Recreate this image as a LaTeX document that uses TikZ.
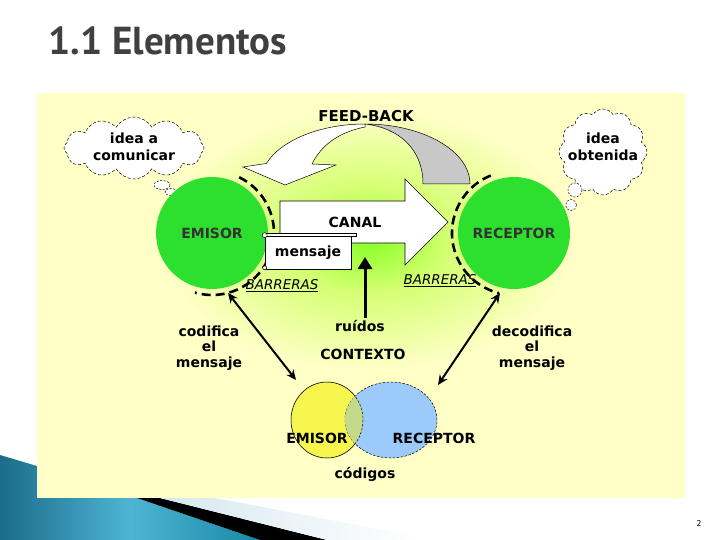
\documentclass[tikz,border=0pt]{standalone}
\usepackage{fontspec}
\setmainfont{DejaVu Sans}
\newfontfamily\titlefont{PT Sans}
\newfontfamily\pagefont{DejaVu Sans Mono}
\usepackage{tikz}
\usetikzlibrary{positioning, arrows.meta, shapes.symbols, shapes.geometric, calc, backgrounds}
\definecolor{panel}{HTML}{FFFFC6}
\definecolor{titlegray}{HTML}{404040}
\definecolor{emigreen}{HTML}{2EE02E}
\definecolor{fbgrey}{HTML}{C8C8C8}
\definecolor{vyellow}{HTML}{F6F64E}
\definecolor{vblue}{HTML}{9CCBFA}
\definecolor{voverlap}{HTML}{C4D98A}
\definecolor{tealdark}{HTML}{1B6C8A}
\definecolor{teallight}{HTML}{4FB4D3}
\definecolor{tealmid}{HTML}{178AA8}
\definecolor{paleblue}{HTML}{D6E8F0}
\pgfdeclareradialshading{glow}{\pgfpoint{0bp}{0bp}}{%
  color(0bp)=(green!55!yellow!85!white); color(10bp)=(green!30!yellow!55!white);
  color(25bp)=(panel); color(50bp)=(panel)}

\begin{document}
\begin{tikzpicture}[x=1pt, y=-1pt,
  lbl/.style={font=\bfseries\fontsize{14}{16}\selectfont, align=center, inner sep=1pt},
  party/.style={circle, fill=emigreen, minimum size=112pt, inner sep=0pt, font=\bfseries\fontsize{14}{16}\selectfont, text=black!80},
  ring/.style={line width=2.6pt, dash pattern=on 9pt off 5pt},
  thought/.style={cloud, cloud puffs=12, cloud puff arc=120, draw, fill=white, line width=0.5pt, dash pattern=on 3pt off 2pt, inner sep=0pt},
  bubble/.style={draw, fill=white, line width=0.5pt, dash pattern=on 2pt off 1.5pt},
  barr/.style={font=\itshape\fontsize{13.5}{15}\selectfont, inner sep=1pt},
  dlink/.style={{Stealth[length=10pt, width=9pt]}-{Stealth[length=10pt, width=9pt]}, line width=2pt},
  noise/.style={-{Triangle[length=12pt, width=14pt]}, line width=3pt},
  vset/.style={ellipse, draw, line width=0.5pt, dash pattern=on 2.5pt off 1.5pt, inner sep=0pt}
]
\useasboundingbox (0,0) rectangle (720,540);
\fill[white] (0,0) rectangle (720,540);

% ===== Slide decoration =====
\shade[left color=tealdark, right color=tealmid, middle color=teallight]
  (0,455) -- (37,466) -- (37,498) -- (137,498) -- (260,540) -- (0,540) -- cycle;
\fill[black] (137,498) -- (160,498) -- (327,540) -- (260,540) -- cycle;
\shade[left color=paleblue, right color=white]
  (160,498) -- (215,498) -- (420,537) -- (420,540) -- (327,540) -- cycle;
\node[anchor=base west, font=\titlefont\bfseries\fontsize{39}{41}\selectfont, text=titlegray] (title) at (45,55) {1.1 Elementos};
\node[font=\pagefont\fontsize{8}{9}\selectfont] (pagenum) at (699,524) {2};

% ===== Panel and glow =====
\fill[panel] (37,93) rectangle (685,498);
\shade[shading=glow] (368,240) ellipse[x radius=205, y radius=130];

% ===== Feed-back =====
\draw[fill=fbgrey, line width=0.5pt] (470,184) arc[start angle=0, end angle=-90, x radius=105, y radius=60]
  .. controls (400,128) and (423,150) .. (423,184) -- cycle;
\draw[fill=white, line width=0.5pt] (365,124) arc[start angle=-90, end angle=-160, x radius=105, y radius=60]
  -- (243,167) -- (285,185) -- (336,165) -- (312,164)
  .. controls (320,148) and (335,133) .. (365,127) -- cycle;
\node[lbl, font=\bfseries\fontsize{15}{17}\selectfont] (feedback) at (366,116) {FEED-BACK};

% ===== Thoughts =====
\node[thought, minimum width=140pt, minimum height=62pt] (cloudA) at (134,148) {};
\node[lbl] (ideaA) at (134,147) {idea a\\[1pt]comunicar};
\draw[bubble] (162,185) ellipse[x radius=8, y radius=4.5];
\draw[bubble] (171,192) ellipse[x radius=6, y radius=3.5];
\node[thought, minimum width=88pt, minimum height=86pt] (cloudB) at (603,152) {};
\node[lbl] (ideaB) at (603,147) {idea\\[1pt]obtenida};
\draw[bubble] (575,190) circle[radius=7];
\draw[bubble] (571,205) circle[radius=5.5];

% ===== Emisor / receptor =====
\node[party] (emisor) at (212,233) {EMISOR};
\node[party] (receptor) at (514,233) {RECEPTOR};
\draw[ring] (212,233) ++(-64:62) arc[start angle=-64, end angle=106, radius=62];
\draw[ring] (514,233) ++(-112:62) arc[start angle=-112, end angle=-256, radius=62];

% ===== Canal =====
\draw[fill=white, line width=0.6pt] (280,201) -- (405,201) -- (405,179) -- (448,222)
  -- (405,265) -- (405,243) -- (280,243) -- cycle;
\node[lbl] (canal) at (355,222) {CANAL};
\node[draw, fill=white, line width=0.6pt, minimum width=86pt, minimum height=33pt, inner sep=0pt,
  font=\bfseries\fontsize{14}{16}\selectfont] (mensaje) at (308,253) {mensaje};
\draw[fill=white, line width=0.5pt] ([yshift=2.5pt]mensaje.north west) rectangle ([xshift=5pt, yshift=-0.5pt]mensaje.north east);
\draw[fill=white, line width=0.5pt] ([yshift=1pt]mensaje.north west) circle[radius=2.5pt];
\draw[fill=white, line width=0.5pt] ([yshift=2pt]mensaje.south west) circle[radius=2pt];

\node[barr] (barrA) at (282,286) {\underline{BARRERAS}};
\node[barr] (barrB) at (440,281) {\underline{BARRERAS}};

% ===== Ruidos / contexto =====
\node[lbl] (ruidos) at (360,326) {ruídos};
\coordinate (noisetip) at (365,257);
\draw[noise] (365,318) -- (noisetip);
\node[lbl] (contexto) at (363,354) {CONTEXTO};
\node[lbl] (codifica) at (209,348) {codifica\\[-0.5pt]el\\[-0.5pt]mensaje};
\node[lbl] (decodifica) at (532,348) {decodifica\\[-0.5pt]el\\[-0.5pt]mensaje};

% ===== Codigos =====
\node[vset, fill=vyellow, minimum width=72pt, minimum height=76pt] (vemisor) at (327,420) {};
\node[vset, fill=vblue, minimum width=92pt, minimum height=76pt] (vreceptor) at (391,420) {};
\begin{scope}
  \clip (327,420) ellipse[x radius=36, y radius=38];
  \fill[voverlap] (391,420) ellipse[x radius=46, y radius=38];
\end{scope}
\draw[line width=0.5pt, dash pattern=on 2.5pt off 1.5pt] (327,420) ellipse[x radius=36, y radius=38];
\node[lbl] (vtxtA) at (317,438) {EMISOR};
\node[lbl] (vtxtB) at (434,438) {RECEPTOR};
\node[lbl] (codigos) at (365,474) {códigos};

% ===== Links =====
\coordinate (codtop) at (228,293);
\coordinate (codbot) at (296,380);
\coordinate (dectop) at (500,293);
\coordinate (decbot) at (438,385);
\draw[dlink] (codtop) -- (codbot);
\draw[dlink] (dectop) -- (decbot);

\end{tikzpicture}
\end{document}
